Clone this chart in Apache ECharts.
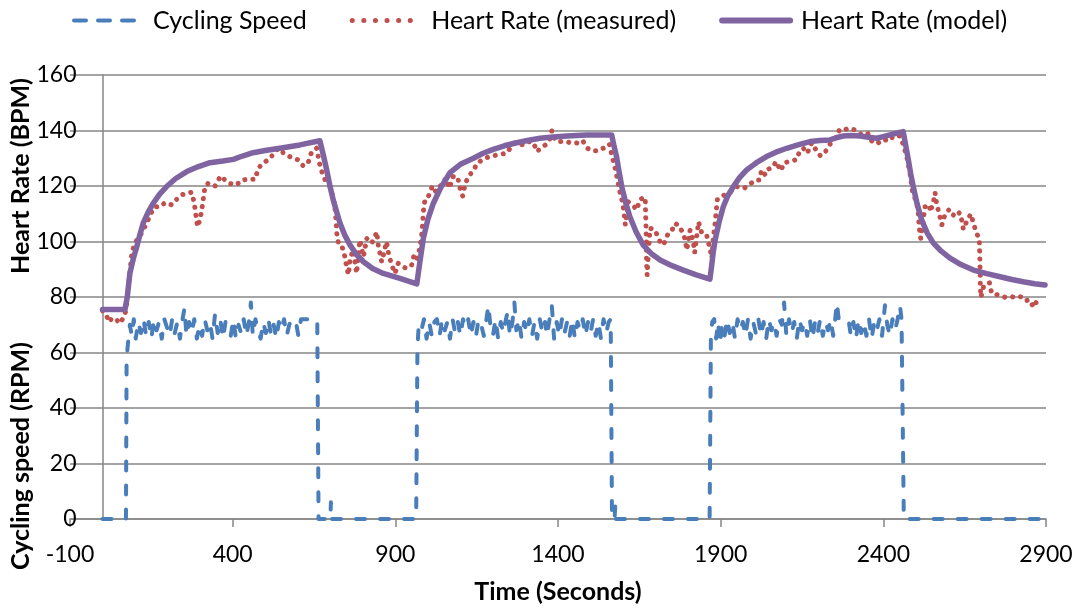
<!DOCTYPE html>
<html>
<head>
<meta charset="utf-8">
<script src="https://cdn.jsdelivr.net/npm/echarts@6/dist/echarts.min.js"></script>
<style>
html,body{margin:0;padding:0;background:#fff;}
#chart{width:1076px;height:610px;}
</style>
</head>
<body>
<div id="chart"></div>
<script>
// ---- data (time in seconds) ----
const xTicks = { min: -100, max: 2900, step: 500 };
const yTicks = { min: 0, max: 160, step: 20 };
const yAxisCrossesAt = 0; // vertical axis crosses the time axis at t = 0

const seriesNames = ['Cycling Speed', 'Heart Rate (measured)', 'Heart Rate (model)'];

const cyclingSpeed = [
  [0,0],[72,0],[74,58],[78,63],[84,70],[90,66],[96,72],[102,65],[110,71],[118,67],[126,72],[134,66],
  [142,71],[150,65],[158,72],[166,68],[174,71],[182,65],[190,72],[198,69],[206,66],[214,72],[222,67],
  [230,71],[238,65],[246,72],[252,76],[258,66],[266,71],[274,67],[282,72],[290,65],[298,70],[306,66],
  [314,72],[322,68],[330,71],[338,65],[346,74],[354,67],[362,72],[370,65],[378,71],[386,69],[394,66],
  [402,72],[410,65],[418,70],[426,67],[434,72],[442,66],[450,71],[456,78],[462,66],[470,72],[478,68],
  [486,65],[494,71],[502,67],[510,72],[518,66],[526,70],[534,65],[542,71],[550,68],[558,72],[566,66],
  [574,70],[582,72],[590,72],[596,70],[602,66],[610,72],[622,72],[640,72],[660,72],[664,0],[700,0],
  [702,6],[705,0],[964,0],
  [966,0],[968,62],[972,70],[980,68],[988,72],[996,65],[1004,71],[1012,66],[1020,71],[1028,72],[1036,66],
  [1044,72],[1052,68],[1060,71],[1068,65],[1076,72],[1084,67],[1092,71],[1100,66],[1108,72],[1116,69],
  [1124,72],[1132,66],[1140,71],[1148,66],[1156,72],[1164,70],[1172,66],[1180,72],[1186,77],[1192,70],
  [1200,66],[1208,72],[1216,65],[1224,71],[1232,67],[1240,72],[1246,75],[1252,66],[1260,71],[1266,78],
  [1272,68],[1280,72],[1288,65],[1296,71],[1304,67],[1312,72],[1320,66],[1328,71],[1336,65],[1344,72],
  [1352,67],[1360,71],[1366,66],[1374,72],[1381,77],[1388,65],[1396,71],[1404,66],[1412,72],[1420,67],
  [1428,71],[1436,66],[1444,72],[1452,65],[1460,71],[1468,68],[1476,72],[1484,66],[1492,71],[1500,67],
  [1508,72],[1516,66],[1524,71],[1532,65],[1540,72],[1548,67],[1556,71],[1562,72],[1566,0],[1574,0],
  [1576,5],[1579,0],[1866,0],
  [1868,0],[1870,66],[1874,71],[1880,72],[1886,65],[1892,71],[1898,63],[1904,70],[1912,66],[1920,72],
  [1928,67],[1936,71],[1944,65],[1952,72],[1960,68],[1968,71],[1976,66],[1984,72],[1992,65],[2000,71],
  [2008,67],[2016,72],[2024,66],[2032,71],[2040,65],[2048,72],[2056,68],[2064,71],[2072,66],[2080,72],
  [2088,70],[2095,78],[2102,66],[2110,72],[2118,67],[2126,71],[2134,65],[2142,72],[2150,68],[2158,71],
  [2166,66],[2174,72],[2182,65],[2190,71],[2198,67],[2206,72],[2214,66],[2222,71],[2230,68],[2238,72],
  [2246,66],[2252,72],[2257,78],[2263,72],[2278,72],[2293,72],[2300,66],[2308,71],[2316,65],[2324,72],
  [2332,67],[2340,71],[2348,66],[2356,72],[2364,65],[2372,71],[2380,68],[2388,72],[2396,66],[2405,77],
  [2412,70],[2420,66],[2428,72],[2436,68],[2444,72],[2451,77],[2456,72],[2461,72],[2463,0],[2900,0]
];

const hrMeasured = [
  [0,75],[10,74],[20,71],[30,72.5],[40,72],[55,70.5],[65,73],[72,75],[80,84],[90,95.7],[97,98.7],
  [108,101],[120,103],[136,106.6],[148,110],[161,112.5],[177,112.5],[192,114],[213,113.2],[228,115.2],
  [243,116.8],[259,117.4],[274,117.7],[282,113.8],[287,109.5],[292,105.3],[300,108],[305,111.4],
  [310,115.6],[315,119.8],[325,121],[346,120],[363,123.6],[387,121],[412,120.4],[428,122.2],[448,122.4],
  [469,122.4],[479,126.4],[494,128.4],[510,129.4],[523,131.2],[540,133.6],[560,131.5],[586,130],
  [602,129.4],[617,127.2],[632,128.4],[643,132.4],[658,133.6],[663,130.6],[670,126.4],[684,122.2],
  [699,119.8],[709,115.6],[715,111.4],[718,107.1],[720,103],[725,99.4],[735,98.7],[745,94.5],[751,90.3],
  [756,88],[761,94],[771,96.9],[776,92.7],[781,88.5],[786,95],[791,100.5],[802,94.5],[812,101.1],
  [820,100],[827,99.4],[835,101],[843,103.5],[848,98.1],[853,95.7],[858,92.7],[865,96],[873,99.9],
  [880,95.1],[889,91.5],[899,88.5],[909,92.1],[920,91],[935,90.3],[950,91.5],[957,94.8],[966,93.3],
  [976,98.1],[981,102.3],[984,106.6],[986,110.7],[991,115],[1001,116.1],[1014,120],[1025,117.9],
  [1037,119.8],[1056,122.8],[1066,119.2],[1078,123.4],[1091,123.4],[1099,119.2],[1107,116.4],
  [1114,120.4],[1124,123.4],[1140,125.5],[1152,128.4],[1169,129.4],[1183,130.3],[1212,131.2],
  [1242,131.8],[1255,134],[1268,135.6],[1293,134.8],[1310,136],[1325,135.6],[1335,132.4],[1350,133.9],
  [1365,135.1],[1375,137],[1381,139.9],[1390,137],[1396,136],[1422,136],[1447,135.4],[1468,135.6],
  [1476,136.3],[1490,133.6],[1507,132.7],[1524,132.7],[1539,133.6],[1558,135.1],[1566,130.8],
  [1575,126.7],[1582,122.8],[1590,118],[1599,113.8],[1603,110.2],[1607,106],[1612,110],[1616,114.3],
  [1632,112.8],[1642,111.4],[1652,115.2],[1668,115.9],[1669,111.4],[1670,107.1],[1671,103],[1672,99],
  [1672,94.5],[1673,90.3],[1674,87.9],[1678,96],[1683,104.8],[1698,104.1],[1714,99.9],[1724,98.7],
  [1739,103],[1750,104],[1760,106.6],[1775,105.3],[1790,101.1],[1796,96.9],[1806,104.1],[1816,99.9],
  [1820,96],[1832,107.1],[1842,103],[1857,102.3],[1867,97.5],[1873,94],[1878,102],[1883,106.6],
  [1886,110.7],[1890,115.2],[1906,116.4],[1931,117.9],[1949,119.8],[1973,119.2],[1990,120.7],
  [2009,122.2],[2019,122.2],[2026,125.8],[2037,124],[2046,126],[2062,127],[2070,128.8],[2085,125.5],
  [2095,128.4],[2118,129],[2134,129.6],[2142,132.4],[2154,133.6],[2166,131.8],[2180,135.6],[2193,133],
  [2207,130.8],[2224,132.7],[2238,135.4],[2254,137.5],[2265,140.2],[2275,139.9],[2292,140.8],
  [2313,140.2],[2330,138.7],[2351,139.2],[2367,135.6],[2385,135.6],[2400,136.8],[2418,136.2],
  [2431,138],[2451,138],[2463,134.4],[2474,129.4],[2482,124.6],[2490,117.6],[2496,116],[2503,113.8],
  [2508,109.5],[2510,105.3],[2515,101.1],[2521,100.8],[2528,112.5],[2542,113.2],[2544,110.7],
  [2554,114.3],[2559,117.6],[2564,113.5],[2572,109.9],[2580,106],[2590,109.9],[2603,111.6],[2610,110.2],
  [2621,108.9],[2634,110.4],[2641,107.7],[2646,104.4],[2651,105.9],[2660,108],[2669,109.9],[2677,106.6],
  [2685,103.5],[2695,100.8],[2696,96.3],[2697,92.1],[2698,88],[2698,83.7],[2700,79.9],[2708,83.7],
  [2726,85.2],[2733,81.3],[2754,80.7],[2774,79.9],[2789,80.1],[2805,80],[2815,80.4],[2826,79.9],
  [2836,78.7],[2851,78.9],[2861,76.3],[2877,79.5]
];

const hrModel = [
  [0,75.5],[69,75.5],[76,80],[84,88.5],[95,94],[105,98],[115,102.5],[125,106.6],[140,110.5],[156,113.8],
  [175,117],[197,119.8],[225,122.7],[259,125.2],[295,127],[330,128.4],[370,129],[402,129.6],[430,130.8],
  [463,132],[500,132.8],[545,133.6],[607,134.8],[668,136.3],[679,131],[689,125.8],[699,120],[709,115],
  [720,110.5],[730,106.6],[745,102.2],[761,98.7],[780,95.4],[802,92.7],[830,90.3],[863,88.5],[914,86.7],
  [966,84.7],[971,89],[976,93],[986,101],[1000,108],[1017,113.8],[1040,119.5],[1068,124.8],[1100,127.8],
  [1140,130],[1170,131.8],[1201,133.2],[1235,134.5],[1273,135.6],[1310,136.5],[1345,137.2],[1385,137.7],
  [1427,138],[1488,138.4],[1565,138.4],[1572,134.5],[1580,130.6],[1588,125],[1596,119.8],[1608,114],
  [1621,108.9],[1640,103.5],[1662,98.7],[1687,95.6],[1714,93.3],[1750,91.3],[1785,89.7],[1825,88],
  [1867,86.4],[1872,91],[1877,96],[1883,100.5],[1895,107],[1908,112.5],[1922,116.5],[1939,119.8],
  [1958,123],[1980,125.8],[2010,128.4],[2041,130.6],[2070,132.2],[2103,133.6],[2140,134.9],[2175,136],
  [2205,136.4],[2236,136.6],[2255,137.4],[2277,138],[2300,138.2],[2328,138],[2355,137.6],[2380,137.2],
  [2400,137.8],[2420,138.4],[2440,139],[2461,139.6],[2469,134.5],[2477,129.4],[2484,124.5],[2492,119.8],
  [2504,113.5],[2518,107.7],[2535,103],[2554,99.4],[2578,96.5],[2605,94],[2640,91.6],[2677,89.7],
  [2718,88.4],[2759,87.3],[2795,86.3],[2830,85.5],[2865,84.8],[2897,84.3]
];

// ---- chart ----
const FONT = 'Lato';
const W = 1076;
const GRID = { left: 70, right: 30, top: 75, bottom: 91 };
const gridWidth = W - GRID.left - GRID.right;
// distance from the plot's left edge to where the vertical axis crosses (t = 0)
const yAxisInset = (yAxisCrossesAt - xTicks.min) / (xTicks.max - xTicks.min) * gridWidth;

const chart = echarts.init(document.getElementById('chart'), null, { renderer: 'canvas' });
const gridColor = '#868686';
const colors = ['#4A7EBB', '#C0504D', '#8064A2'];

chart.setOption({
  backgroundColor: '#ffffff',
  animation: false,
  textStyle: { fontFamily: FONT, color: '#000' },
  legend: {
    top: 3,
    left: 67,
    itemWidth: 68,
    itemHeight: 14,
    itemGap: 43,
    itemStyle: { opacity: 0 },
    textStyle: { fontFamily: FONT, fontSize: 25, color: '#000', padding: [0, 0, 0, 6] },
    data: [
      { name: seriesNames[0], itemStyle: { opacity: 0 }, lineStyle: { width: 4, type: [12, 12], cap: 'round' } },
      { name: seriesNames[1], itemStyle: { opacity: 0 }, lineStyle: { width: 5, type: [0.1, 11.5], cap: 'round' } },
      { name: seriesNames[2], itemStyle: { opacity: 0 }, lineStyle: { width: 6, cap: 'round' } }
    ]
  },
  grid: { left: GRID.left, right: GRID.right, top: GRID.top, bottom: GRID.bottom, containLabel: false },
  xAxis: {
    type: 'value',
    min: xTicks.min, max: xTicks.max, interval: xTicks.step,
    axisLine: { show: true, onZero: true, lineStyle: { color: gridColor, width: 1.5 } },
    axisTick: { show: true, length: 8, lineStyle: { color: gridColor, width: 1.5 } },
    axisLabel: { fontFamily: FONT, fontSize: 23, color: '#000', margin: 24, formatter: v => String(v) },
    splitLine: { show: false }
  },
  yAxis: {
    type: 'value',
    position: 'left',
    offset: -yAxisInset,
    min: yTicks.min, max: yTicks.max, interval: yTicks.step,
    axisLine: { show: true, onZero: false, lineStyle: { color: gridColor, width: 1.5 } },
    axisTick: { show: false },
    axisLabel: { fontFamily: FONT, fontSize: 23, color: '#000', margin: 26, formatter: v => String(v) },
    splitLine: { show: true, lineStyle: { color: gridColor, width: 1.5 } }
  },
  graphic: [
    { type: 'text', x: 558, y: 592,
      style: { text: 'Time (Seconds)', font: 'bold 25px ' + FONT, fill: '#000', align: 'center', verticalAlign: 'middle' } },
    { type: 'text', x: 21, y: 176, rotation: Math.PI / 2,
      style: { text: 'Heart Rate (BPM)', font: 'bold 25px ' + FONT, fill: '#000', align: 'center', verticalAlign: 'middle' } },
    { type: 'text', x: 21, y: 456, rotation: Math.PI / 2,
      style: { text: 'Cycling speed (RPM)', font: 'bold 25px ' + FONT, fill: '#000', align: 'center', verticalAlign: 'middle' } }
  ],
  series: [
    {
      name: seriesNames[0], type: 'line', data: cyclingSpeed, symbol: 'none', clip: false,
      lineStyle: { color: colors[0], width: 4, type: [9, 15], cap: 'round', join: 'round' },
      itemStyle: { color: colors[0] }
    },
    {
      name: seriesNames[1], type: 'line', data: hrMeasured, symbol: 'none', clip: false,
      lineStyle: { color: colors[1], width: 5, type: [0.1, 8], cap: 'round', join: 'round' },
      itemStyle: { color: colors[1] }
    },
    {
      name: seriesNames[2], type: 'line', data: hrModel, symbol: 'none', clip: false,
      lineStyle: { color: colors[2], width: 5.5, cap: 'round', join: 'round' },
      itemStyle: { color: colors[2] }
    }
  ]
});
</script>
</body>
</html>
